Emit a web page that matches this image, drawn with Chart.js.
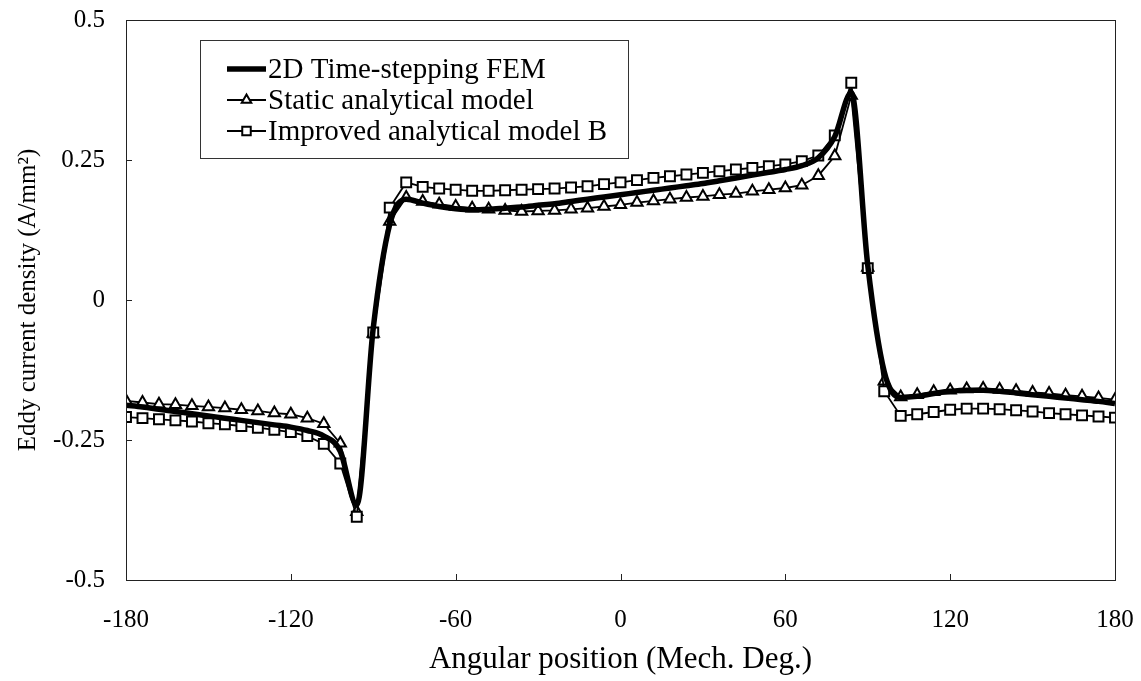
<!DOCTYPE html>
<html>
<head>
<meta charset="utf-8">
<script src="https://cdn.jsdelivr.net/npm/chart.js@4.4.1/dist/chart.umd.min.js"></script>
<style>
  html, body { margin: 0; padding: 0; background: #fff; }
  #wrap { width: 1141px; height: 681px; position: relative; }
</style>
</head>
<body>
<div id="wrap"><canvas id="c"></canvas></div>
<script>
// Angular positions (mechanical degrees), one sample every 6 degrees
const angles = [
  -180, -174, -168, -162, -156, -150, -144, -138, -132, -126,
  -120, -114, -108, -102, -96, -90, -84, -78, -72, -66,
  -60, -54, -48, -42, -36, -30, -24, -18, -12, -6,
  0, 6, 12, 18, 24, 30, 36, 42, 48, 54,
  60, 66, 72, 78, 84, 90, 96, 102, 108, 114,
  120, 126, 132, 138, 144, 150, 156, 162, 168, 174, 180
];

// Eddy current density (A/mm^2), 2D time-stepping FEM
const femValues = [
  -0.188, -0.191, -0.195, -0.199, -0.203, -0.207, -0.211, -0.215, -0.219, -0.223,
  -0.227, -0.233, -0.243, -0.270, -0.366, -0.050, 0.135, 0.180, 0.173, 0.167,
  0.163, 0.161, 0.162, 0.164, 0.166, 0.169, 0.172, 0.176, 0.180, 0.184,
  0.188, 0.192, 0.196, 0.200, 0.204, 0.208, 0.213, 0.218, 0.223, 0.228,
  0.233, 0.240, 0.254, 0.292, 0.370, 0.062, -0.128, -0.174, -0.172, -0.167,
  -0.163, -0.161, -0.161, -0.163, -0.166, -0.169, -0.172, -0.175, -0.178, -0.181, -0.185
];

// Static analytical model
const staticValues = [
  -0.180, -0.183, -0.186, -0.187, -0.189, -0.191, -0.193, -0.196, -0.198, -0.202,
  -0.204, -0.211, -0.221, -0.256, -0.378, -0.060, 0.140, 0.183, 0.176, 0.171,
  0.167, 0.164, 0.162, 0.160, 0.158, 0.159, 0.160, 0.162, 0.164, 0.167,
  0.170, 0.174, 0.177, 0.180, 0.183, 0.185, 0.188, 0.190, 0.194, 0.197,
  0.200, 0.205, 0.222, 0.257, 0.365, 0.058, -0.145, -0.173, -0.169, -0.164,
  -0.161, -0.159, -0.158, -0.160, -0.162, -0.165, -0.167, -0.170, -0.172, -0.175, -0.178
];

// Improved analytical model B
const improvedValues = [
  -0.209, -0.211, -0.213, -0.215, -0.217, -0.220, -0.222, -0.225, -0.228, -0.232,
  -0.236, -0.243, -0.257, -0.292, -0.387, -0.058, 0.165, 0.210, 0.202, 0.199,
  0.197, 0.195, 0.195, 0.196, 0.197, 0.198, 0.199, 0.201, 0.203, 0.207,
  0.210, 0.214, 0.218, 0.221, 0.224, 0.227, 0.230, 0.233, 0.236, 0.239,
  0.242, 0.248, 0.258, 0.294, 0.388, 0.057, -0.163, -0.207, -0.204, -0.200,
  -0.196, -0.194, -0.194, -0.195, -0.197, -0.199, -0.202, -0.204, -0.206, -0.208, -0.210
];

const seriesNames = ['2D Time-stepping FEM', 'Static analytical model', 'Improved analytical model B'];

const xTickValues = [-180, -120, -60, 0, 60, 120, 180];
const xTickLabels = ['-180', '-120', '-60', '0', '60', '120', '180'];
const yTickValues = [-0.5, -0.25, 0, 0.25, 0.5];
const yTickLabels = ['-0.5', '-0.25', '0', '0.25', '0.5'];

const xTitle = 'Angular position (Mech. Deg.)';
const yTitle = 'Eddy current density (A/mm\u00B2)';

const SERIF = '"Liberation Serif", "Times New Roman", serif';
const INK = '#000';

const toPoints = vals => angles.map((a, i) => ({ x: a, y: vals[i] }));

// Box around the plot area with short inward tick marks
const framePlugin = {
  id: 'frame',
  afterDraw(chart) {
    const { ctx, chartArea: a, scales } = chart;
    ctx.save();
    ctx.strokeStyle = '#222';
    ctx.lineWidth = 1;
    ctx.strokeRect(Math.round(a.left) + 0.5, Math.round(a.top) + 0.5,
                   Math.round(a.right - a.left), Math.round(a.bottom - a.top));
    ctx.beginPath();
    xTickValues.forEach(v => {
      const px = Math.round(scales.x.getPixelForValue(v)) + 0.5;
      ctx.moveTo(px, a.bottom);
      ctx.lineTo(px, a.bottom - 6);
    });
    yTickValues.forEach(v => {
      const py = Math.round(scales.y.getPixelForValue(v)) + 0.5;
      ctx.moveTo(a.left, py);
      ctx.lineTo(a.left + 6, py);
    });
    ctx.stroke();
    ctx.restore();
  }
};

// Boxed legend in the upper-left part of the plot
const legendBoxPlugin = {
  id: 'legendBox',
  afterDraw(chart) {
    const { ctx, chartArea: a } = chart;
    const left = a.left + 74, top = a.top + 20, w = 428, h = 118;
    const rowY = [top + 29, top + 60, top + 91];
    const sx0 = left + 27, sx1 = left + 66, tx = left + 68;
    ctx.save();
    ctx.fillStyle = '#fff';
    ctx.fillRect(left, top, w, h);
    ctx.strokeStyle = '#333';
    ctx.lineWidth = 1;
    ctx.strokeRect(left + 0.5, top + 0.5, w, h);
    chart.data.datasets.forEach((ds, i) => {
      const y = rowY[i];
      ctx.strokeStyle = ds.borderColor;
      ctx.lineWidth = ds.borderWidth;
      ctx.beginPath();
      ctx.moveTo(sx0, y);
      ctx.lineTo(sx1, y);
      ctx.stroke();
      if (ds.pointRadius > 0) {
        ctx.fillStyle = ds.pointBackgroundColor;
        ctx.strokeStyle = ds.pointBorderColor;
        ctx.lineWidth = ds.pointBorderWidth;
        Chart.helpers.drawPoint(ctx, {
          pointStyle: ds.pointStyle, radius: ds.pointRadius - 1, rotation: 0, borderWidth: ds.pointBorderWidth
        }, (sx0 + sx1) / 2, y);
      }
      ctx.fillStyle = INK;
      ctx.font = '29px ' + SERIF;
      ctx.textBaseline = 'middle';
      ctx.textAlign = 'left';
      ctx.fillText(ds.label, tx, y + 1);
    });
    ctx.restore();
  }
};

new Chart(document.getElementById('c'), {
  type: 'line',
  data: {
    datasets: [
      {
        label: seriesNames[0],
        data: toPoints(femValues),
        borderColor: INK,
        borderWidth: 5.5,
        pointRadius: 0,
        cubicInterpolationMode: 'monotone',
        order: 0
      },
      {
        label: seriesNames[1],
        data: toPoints(staticValues),
        borderColor: INK,
        borderWidth: 1.8,
        pointStyle: 'triangle',
        pointRadius: 6.5,
        pointBorderWidth: 2,
        pointBorderColor: INK,
        pointBackgroundColor: '#fff',
        tension: 0,
        order: 2
      },
      {
        label: seriesNames[2],
        data: toPoints(improvedValues),
        borderColor: INK,
        borderWidth: 1.8,
        pointStyle: 'rect',
        pointRadius: 7,
        pointBorderWidth: 2,
        pointBorderColor: INK,
        pointBackgroundColor: '#fff',
        tension: 0,
        order: 1
      }
    ]
  },
  options: {
    responsive: true,
    maintainAspectRatio: false,
    animation: false,
    layout: { padding: { top: 20, right: 26, left: 0, bottom: 0 } },
    plugins: {
      legend: { display: false },
      tooltip: { enabled: false }
    },
    scales: {
      x: {
        type: 'linear',
        min: -180,
        max: 180,
        afterBuildTicks: s => { s.ticks = xTickValues.map(v => ({ value: v })); },
        afterFit: s => { s.height = 101; s.paddingLeft = 0; s.paddingRight = 0; },
        grid: { display: false, drawTicks: false },
        border: { display: false },
        ticks: {
          padding: 25,
          color: INK,
          font: { family: SERIF, size: 25 },
          callback: v => xTickLabels[xTickValues.indexOf(v)]
        },
        title: {
          display: true,
          text: xTitle,
          color: INK,
          font: { family: SERIF, size: 31 },
          padding: { top: 0, bottom: 3 }
        }
      },
      y: {
        type: 'linear',
        min: -0.5,
        max: 0.5,
        afterBuildTicks: s => { s.ticks = yTickValues.map(v => ({ value: v })); },
        afterFit: s => { s.width = 126; s.paddingTop = 0; s.paddingBottom = 0; },
        grid: { display: false, drawTicks: false },
        border: { display: false },
        ticks: {
          padding: 21,
          color: INK,
          font: { family: SERIF, size: 25 },
          callback: v => yTickLabels[yTickValues.indexOf(v)]
        },
        title: {
          display: true,
          text: yTitle,
          color: INK,
          font: { family: SERIF, size: 25 },
          padding: { top: 13, bottom: 0 }
        }
      }
    }
  },
  plugins: [framePlugin, legendBoxPlugin]
});
</script>
</body>
</html>
